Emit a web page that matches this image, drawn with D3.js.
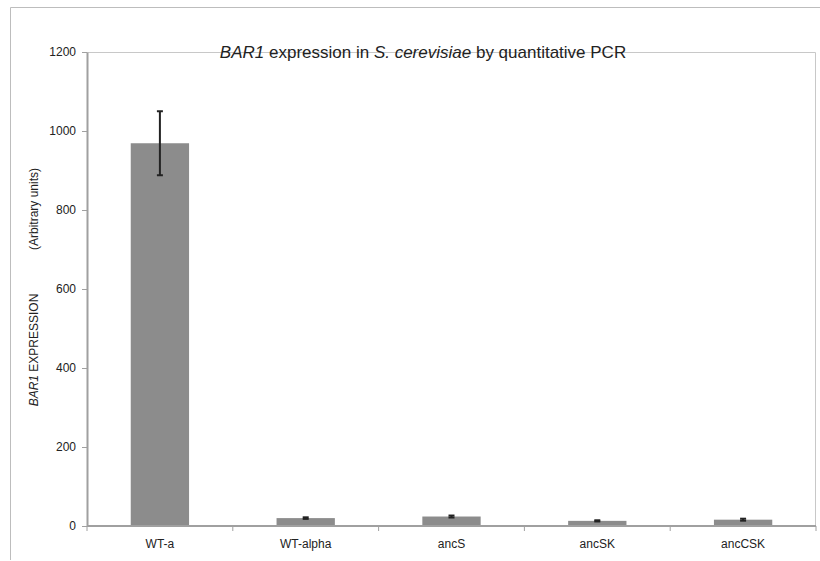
<!DOCTYPE html>
<html>
<head>
<meta charset="utf-8">
<script src="https://cdn.jsdelivr.net/npm/d3@7"></script>
<style>
  body { margin: 0; background: #fff; }
  text { font-family: "Liberation Sans", Arial, sans-serif; fill: #222; }
</style>
</head>
<body>
<div class="chart"></div>
<script>
// data
const strains = ["WT-a", "WT-alpha", "ancS", "ancSK", "ancCSK"];
const expression = [969, 20, 24, 13, 16];
const errors = [81, 2, 2.5, 1.5, 2.5];
const yTicks = [0, 200, 400, 600, 800, 1000, 1200];

const W = 820, H = 561;
let margin = { top: 52, right: 4, bottom: 35, left: 87 },
    width = W - margin.left - margin.right,
    height = H - margin.top - margin.bottom;

let root = d3.select(".chart")
    .append("svg")
    .attr("width", W)
    .attr("height", H);

// outer frame (top + left only visible)
root.append("path")
    .attr("d", "M10.5,560 L10.5,7.5 L820,7.5")
    .attr("fill", "none")
    .attr("stroke", "#bdbdbd");

let svg = root.append("g")
    .attr("transform", `translate(${margin.left},${margin.top})`);

let xScale = d3.scaleBand()
    .domain(strains)
    .range([0, width])
    .paddingInner(0.6)
    .paddingOuter(0.3);

let yScale = d3.scaleLinear()
    .domain([0, 1200])
    .range([height, 0]);

// top border + right border of plot area
svg.append("path")
    .attr("d", `M0,0.5 H${width - 0.5} V${height}`)
    .attr("fill", "none")
    .attr("stroke", "#c8c8c8");

// bars
svg.selectAll(".bar")
    .data(strains)
    .join("rect")
    .attr("class", "bar")
    .attr("x", d => xScale(d))
    .attr("width", xScale.bandwidth())
    .attr("y", (d, i) => yScale(expression[i]))
    .attr("height", (d, i) => height - yScale(expression[i]))
    .attr("fill", "#8c8c8c");

// error bars
let eb = svg.selectAll(".err")
    .data(strains)
    .join("g")
    .attr("class", "err")
    .attr("stroke", "#222")
    .attr("stroke-width", 2);
eb.append("line")
    .attr("x1", d => xScale(d) + xScale.bandwidth() / 2)
    .attr("x2", d => xScale(d) + xScale.bandwidth() / 2)
    .attr("y1", (d, i) => yScale(expression[i] - errors[i]))
    .attr("y2", (d, i) => yScale(expression[i] + errors[i]));
eb.selectAll(".cap")
    .data((d, i) => [[d, expression[i] - errors[i]], [d, expression[i] + errors[i]]])
    .join("line")
    .attr("class", "cap")
    .attr("x1", d => xScale(d[0]) + xScale.bandwidth() / 2 - 3)
    .attr("x2", d => xScale(d[0]) + xScale.bandwidth() / 2 + 3)
    .attr("y1", d => yScale(d[1]))
    .attr("y2", d => yScale(d[1]));

// axes
let yAxis = d3.axisLeft(yScale).tickValues(yTicks).tickFormat(d3.format("d")).tickSize(5).tickSizeOuter(0);
let yg = svg.append("g").call(yAxis);
yg.select(".domain").attr("stroke", "#a0a0a0").attr("stroke-width", 2);
yg.selectAll(".tick line").attr("stroke", "#a0a0a0");
yg.selectAll("text").attr("font-size", 12).attr("dx", -3);

// x axis: ticks at category boundaries
let xg = svg.append("g").attr("transform", `translate(0,${height})`);
xg.append("line")
    .attr("x1", 0).attr("x2", width)
    .attr("stroke", "#a0a0a0").attr("stroke-width", 2);
let bounds = d3.range(strains.length + 1).map(i => i * xScale.step());
xg.selectAll(".xt")
    .data(bounds)
    .join("line")
    .attr("x1", d => d).attr("x2", d => d)
    .attr("y1", 0).attr("y2", 5)
    .attr("stroke", "#a0a0a0");
xg.selectAll(".xl")
    .data(strains)
    .join("text")
    .attr("x", d => xScale(d) + xScale.bandwidth() / 2)
    .attr("y", 22)
    .attr("text-anchor", "middle")
    .attr("font-size", 12)
    .text(d => d);

// title
let title = root.append("text")
    .attr("x", 423)
    .attr("y", 58)
    .attr("text-anchor", "middle")
    .attr("font-size", 17);
title.append("tspan").attr("font-style", "italic").text("BAR1");
title.append("tspan").text(" expression in ");
title.append("tspan").attr("font-style", "italic").text("S. cerevisiae");
title.append("tspan").text(" by quantitative PCR");

// y label
let yl = root.append("text")
    .attr("transform", "translate(38,350) rotate(-90)")
    .attr("text-anchor", "middle")
    .attr("font-size", 12);
yl.append("tspan").attr("font-style", "italic").text("BAR1");
yl.append("tspan").text(" EXPRESSION");
root.append("text")
    .attr("transform", "translate(38,209) rotate(-90)")
    .attr("text-anchor", "middle")
    .attr("font-size", 12)
    .text("(Arbitrary units)");
</script>
</body>
</html>
